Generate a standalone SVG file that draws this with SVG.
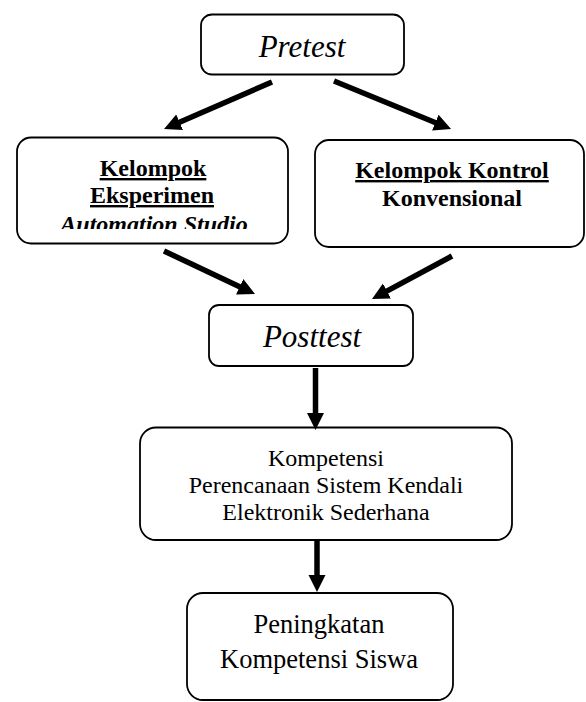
<svg xmlns="http://www.w3.org/2000/svg" width="586" height="702" viewBox="0 0 586 702">
<style>
.box{fill:#fff;stroke:#000;stroke-width:1.8}
.t{font-family:"Liberation Serif","Times New Roman",serif;fill:#000;text-anchor:middle}
.it{font-style:italic;font-size:31px}
.b{font-weight:bold;font-size:24px}
.u{text-decoration:underline}
.r{font-size:24px}
.r2{font-size:26.5px}
.con line{stroke:#000;stroke-width:5.5;marker-end:url(#ah)}
</style>
<defs>
<marker id="ah" markerUnits="userSpaceOnUse" markerWidth="20" markerHeight="20" refX="7" refY="8.5" orient="auto">
<path d="M0,0 L17,8.5 L0,17 z" fill="#000"/>
</marker>
<clipPath id="clipA"><rect x="17" y="137" width="271" height="92"/></clipPath>
</defs>
<rect width="586" height="702" fill="#fff"/>
<g id="pretest">
<rect class="box" x="201" y="14.5" width="203" height="60" rx="11"/>
<text class="t it" x="302" y="57">Pretest</text>
</g>
<g id="eksperimen">
<rect class="box" x="17" y="137.5" width="271" height="106" rx="14"/>
<text class="t b u" x="153" y="176">Kelompok</text>
<text class="t b u" x="152" y="203">Eksperimen</text>
<g clip-path="url(#clipA)"><text class="t b" font-style="italic" x="154" y="232">Automation Studio</text></g>
</g>
<g id="kontrol">
<rect class="box" x="315" y="140" width="269" height="107" rx="14"/>
<text class="t b u" x="452" y="178">Kelompok Kontrol</text>
<text class="t b" x="452" y="206">Konvensional</text>
</g>
<g id="posttest">
<rect class="box" x="209" y="305" width="204" height="61" rx="10"/>
<text class="t it" x="312" y="347">Posttest</text>
</g>
<g id="kompetensi">
<rect class="box" x="140" y="427.5" width="372" height="112.5" rx="16"/>
<text class="t r" x="326" y="466">Kompetensi</text>
<text class="t r" x="326" y="493">Perencanaan Sistem Kendali</text>
<text class="t r" x="326" y="520">Elektronik Sederhana</text>
</g>
<g id="peningkatan">
<rect class="box" x="187" y="593" width="266" height="107" rx="16"/>
<text class="t r2" x="319" y="633">Peningkatan</text>
<text class="t r2" x="319" y="668">Kompetensi Siswa</text>
</g>
<g id="connectors" class="con">
<line x1="272" y1="82" x2="173.2" y2="125"/>
<line x1="334" y1="81" x2="441.8" y2="125.2"/>
<line x1="164" y1="251" x2="246" y2="289.7"/>
<line x1="452" y1="256" x2="380.8" y2="294.3"/>
<line x1="315.5" y1="368" x2="315.5" y2="420"/>
<line x1="317" y1="540" x2="317" y2="582"/>
</g>
</svg>
